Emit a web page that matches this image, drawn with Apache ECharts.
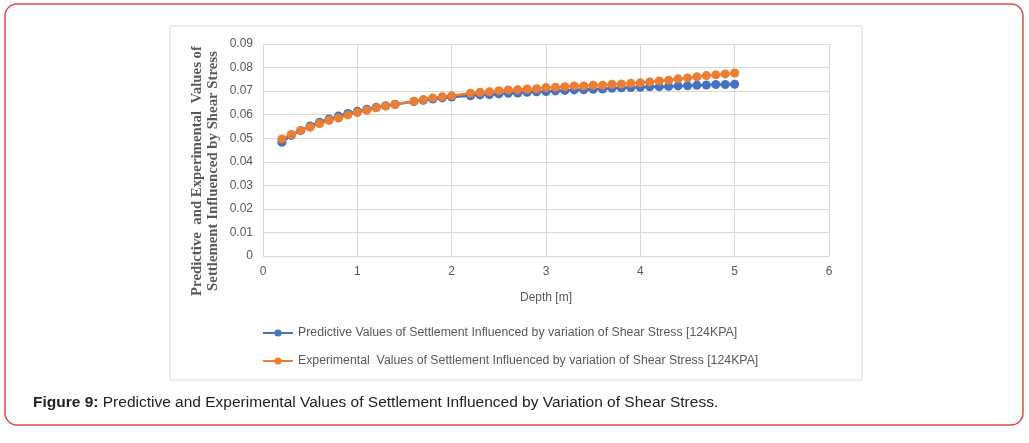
<!DOCTYPE html>
<html>
<head>
<meta charset="utf-8">
<script src="https://cdn.jsdelivr.net/npm/echarts@6/dist/echarts.min.js"></script>
<style>
  html, body { margin: 0; padding: 0; background: #fff; }
  #chart { width: 1029px; height: 443px; }
</style>
</head>
<body>
<div id="chart"></div>
<script>
// depth in metres (no readings at 1.5 and 2.1)
var depth = [0.2, 0.3, 0.4, 0.5, 0.6, 0.7, 0.8, 0.9, 1.0, 1.1, 1.2, 1.3, 1.4,
  1.6, 1.7, 1.8, 1.9, 2.0,
  2.2, 2.3, 2.4, 2.5, 2.6, 2.7, 2.8, 2.9, 3.0, 3.1, 3.2, 3.3, 3.4, 3.5, 3.6, 3.7, 3.8, 3.9, 4.0,
  4.1, 4.2, 4.3, 4.4, 4.5, 4.6, 4.7, 4.8, 4.9, 5.0]

var predicted = [0.0483, 0.0512, 0.0532, 0.0552, 0.0568, 0.0582, 0.0594, 0.0605, 0.0614, 0.0623, 0.0631, 0.0638, 0.0644,
  0.0656, 0.0661, 0.0666, 0.0671, 0.0675,
  0.0680, 0.0684, 0.0685, 0.0688, 0.0691, 0.0692, 0.0695, 0.0697, 0.0698, 0.0701, 0.0703, 0.0705, 0.0706, 0.0708, 0.0709, 0.0712, 0.0714, 0.0715, 0.0716,
  0.0718, 0.0719, 0.0720, 0.0722, 0.0723, 0.0725, 0.0726, 0.0728, 0.0728, 0.0729]

var experimental = [0.0497, 0.0516, 0.0533, 0.0547, 0.0562, 0.0576, 0.0586, 0.0599, 0.0609, 0.0619, 0.0629, 0.0637, 0.0643,
  0.0657, 0.0664, 0.0671, 0.0676, 0.0680,
  0.0691, 0.0695, 0.0697, 0.0702, 0.0705, 0.0706, 0.0709, 0.0710, 0.0715, 0.0716, 0.0719, 0.0722, 0.0722, 0.0725, 0.0725, 0.0729, 0.0730, 0.0733, 0.0735,
  0.0739, 0.0743, 0.0746, 0.0752, 0.0756, 0.0761, 0.0766, 0.0769, 0.0773, 0.0777]

var seriesNames = [
  'Predictive Values of Settlement Influenced by variation of Shear Stress [124KPA]',
  'Experimental  Values of Settlement Influenced by variation of Shear Stress [124KPA]'
]

function pairs(ys) {
  return depth.map(function (d, i) { return [d, ys[i]] })
}

var chart = echarts.init(document.getElementById('chart'))
chart.setOption({
  animation: false,
  textStyle: { fontFamily: 'Liberation Sans, Arial, sans-serif' },
  graphic: [
    {
      type: 'rect',
      shape: { x: 5, y: 4, width: 1018, height: 421, r: 12 },
      style: { fill: 'none', stroke: '#dd4b4b', lineWidth: 1.5 }
    },
    {
      type: 'rect',
      shape: { x: 170, y: 26, width: 692, height: 354 },
      style: { fill: 'none', stroke: '#d9d9d9', lineWidth: 1 }
    },
    {
      type: 'text',
      x: 205,
      y: 171,
      rotation: Math.PI / 2,
      style: {
        text: 'Predictive  and Experimental  Values of\nSettlement Influenced by Shear Stress',
        font: 'bold 14.8px "Liberation Serif", "Times New Roman", serif',
        fill: '#595959',
        align: 'center',
        verticalAlign: 'middle',
        lineHeight: 16
      }
    },
    {
      type: 'text',
      x: 33,
      y: 403,
      style: {
        text: '{b|Figure 9:} Predictive and Experimental Values of Settlement Influenced by Variation of Shear Stress.',
        font: '15.5px "Liberation Sans", Arial, sans-serif',
        fill: '#222',
        verticalAlign: 'middle',
        rich: {
          b: { fontWeight: 'bold', fontSize: 15.5, fill: '#222' }
        }
      }
    }
  ],
  grid: { left: 263, top: 44, right: 200, bottom: 187 },
  legend: {
    orient: 'vertical',
    left: 257,
    top: 322,
    itemWidth: 30,
    itemHeight: 9,
    itemGap: 16,
    textStyle: { color: '#595959', fontSize: 12.3 },
    data: seriesNames
  },
  xAxis: {
    type: 'value',
    min: 0,
    max: 6,
    interval: 1,
    name: 'Depth [m]',
    nameLocation: 'middle',
    nameGap: 36,
    nameTextStyle: { color: '#595959', fontSize: 12 },
    axisLine: { lineStyle: { color: '#d9d9d9' } },
    axisTick: { show: false },
    axisLabel: { color: '#595959', fontSize: 12, margin: 10 },
    splitLine: { lineStyle: { color: '#d9d9d9' } }
  },
  yAxis: {
    type: 'value',
    min: 0,
    max: 0.09,
    interval: 0.01,
    axisLine: { show: false },
    axisTick: { show: false },
    axisLabel: {
      color: '#595959',
      fontSize: 12,
      margin: 10,
      formatter: function (v) { return v === 0 ? '0' : v.toFixed(2) }
    },
    splitLine: { lineStyle: { color: '#d9d9d9' } }
  },
  series: [
    {
      name: seriesNames[0],
      type: 'line',
      data: pairs(predicted),
      symbol: 'circle',
      symbolSize: 9,
      color: '#4472c4',
      lineStyle: { width: 2.5 }
    },
    {
      name: seriesNames[1],
      type: 'line',
      data: pairs(experimental),
      symbol: 'circle',
      symbolSize: 9,
      color: '#ed7d31',
      lineStyle: { width: 2.5 }
    }
  ]
})
</script>
</body>
</html>
